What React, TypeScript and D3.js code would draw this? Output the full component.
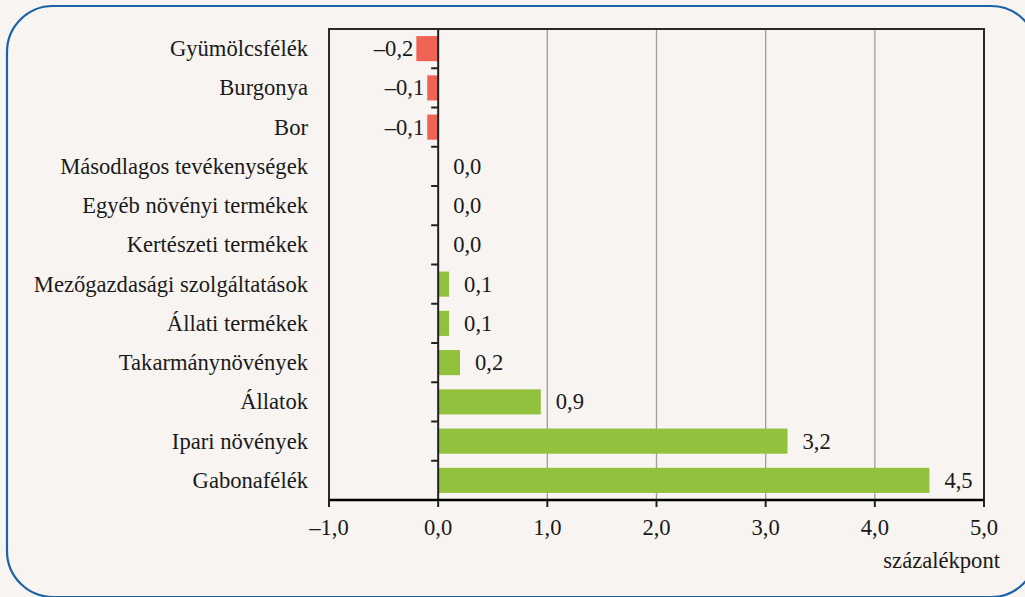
import { useEffect, useRef } from "react";
import * as d3 from "d3";

const categories = [
  "Gyümölcsfélék",
  "Burgonya",
  "Bor",
  "Másodlagos tevékenységek",
  "Egyéb növényi termékek",
  "Kertészeti termékek",
  "Mezőgazdasági szolgáltatások",
  "Állati termékek",
  "Takarmánynövények",
  "Állatok",
  "Ipari növények",
  "Gabonafélék",
];
const values = [-0.2, -0.1, -0.1, 0.0, 0.0, 0.0, 0.1, 0.1, 0.2, 0.94, 3.2, 4.5];
const labels = ["–0,2", "–0,1", "–0,1", "0,0", "0,0", "0,0", "0,1", "0,1", "0,2", "0,9", "3,2", "4,5"];
const xTicks = [-1, 0, 1, 2, 3, 4, 5];
const xTickLabels = ["–1,0", "0,0", "1,0", "2,0", "3,0", "4,0", "5,0"];
const unitLabel = "százalékpont";

const W = 1025;
const H = 597;
const FONT = "Liberation Serif";
const FS = "22.6px";

export default function App() {
  const ref = useRef<SVGSVGElement>(null);

  useEffect(() => {
    const svg = d3.select(ref.current);
    svg.selectAll("*").remove();

    const left = 329, right = 984, top = 29, bottom = 500;

    svg.append("rect").attr("width", W).attr("height", H).attr("fill", "#f7f4f1");

    // rounded frame
    svg.append("rect")
      .attr("x", 7).attr("y", 6)
      .attr("width", 1030).attr("height", 591)
      .attr("rx", 46).attr("ry", 46)
      .attr("fill", "none")
      .attr("stroke", "#1b62a6")
      .attr("stroke-width", 2.2);

    const x = d3.scaleLinear().domain([-1, 5]).range([left, right]);
    const y = d3.scaleBand().domain(categories).range([top, bottom]).paddingInner(0.36).paddingOuter(0.18);
    const band = d3.scaleBand().domain(categories).range([top, bottom]);

    const g = svg.append("g");

    // gridlines
    g.selectAll("line.grid")
      .data(xTicks.filter(t => t > 0 && t < 5))
      .enter().append("line")
      .attr("x1", d => x(d)).attr("x2", d => x(d))
      .attr("y1", top).attr("y2", bottom)
      .attr("stroke", "#9e9e9e").attr("stroke-width", 1.3);

    // bars
    g.selectAll("rect.bar")
      .data(values)
      .enter().append("rect")
      .attr("x", d => x(Math.min(0, d)))
      .attr("width", d => Math.abs(x(d) - x(0)))
      .attr("y", (_, i) => y(categories[i])!)
      .attr("height", y.bandwidth())
      .attr("fill", d => (d < 0 ? "#ef6354" : "#92c13e"));

    // plot frame
    g.append("path")
      .attr("d", `M${left},${bottom}V${top}H${right}V${bottom}`)
      .attr("fill", "none").attr("stroke", "#2a2a2a").attr("stroke-width", 2);

    // zero line + category ticks
    g.append("line")
      .attr("x1", x(0)).attr("x2", x(0)).attr("y1", top).attr("y2", bottom)
      .attr("stroke", "#222").attr("stroke-width", 2);
    g.selectAll("line.ctick")
      .data(categories.slice(1))
      .enter().append("line")
      .attr("x1", x(0) - 7).attr("x2", x(0))
      .attr("y1", d => band(d)!).attr("y2", d => band(d)!)
      .attr("stroke", "#222").attr("stroke-width", 2);

    // x axis
    g.append("line")
      .attr("x1", left).attr("x2", right).attr("y1", bottom).attr("y2", bottom)
      .attr("stroke", "#000").attr("stroke-width", 2.5);
    g.selectAll("line.xtick")
      .data(xTicks)
      .enter().append("line")
      .attr("x1", d => x(d)).attr("x2", d => x(d))
      .attr("y1", bottom).attr("y2", bottom + 7)
      .attr("stroke", "#222").attr("stroke-width", 2);

    const t = g.append("g")
      .style("font-family", FONT)
      .style("font-size", FS)
      .attr("fill", "#1a1a1a");

    t.selectAll("text.xlab")
      .data(xTicks)
      .enter().append("text")
      .attr("x", d => x(d)).attr("y", bottom + 35)
      .attr("text-anchor", "middle")
      .text((_, i) => xTickLabels[i]);
    t.append("text")
      .attr("x", 1000).attr("y", 568)
      .attr("text-anchor", "end")
      .text(unitLabel);

    // category labels
    t.selectAll("text.cat")
      .data(categories)
      .enter().append("text")
      .attr("x", 308)
      .attr("y", d => band(d)! + band.bandwidth() / 2)
      .attr("dy", "0.33em")
      .attr("text-anchor", "end")
      .text(d => d);

    // value labels
    t.selectAll("text.val")
      .data(values)
      .enter().append("text")
      .attr("x", d => (d < 0 ? x(d) - 3 : x(d) + 15))
      .attr("y", (_, i) => band(categories[i])! + band.bandwidth() / 2)
      .attr("dy", "0.33em")
      .attr("text-anchor", d => (d < 0 ? "end" : "start"))
      .text((_, i) => labels[i]);
  }, []);

  return (
    <svg
      ref={ref}
      width={W}
      height={H}
      style={{ position: "absolute", left: 0, top: 0, display: "block" }}
    />
  );
}
